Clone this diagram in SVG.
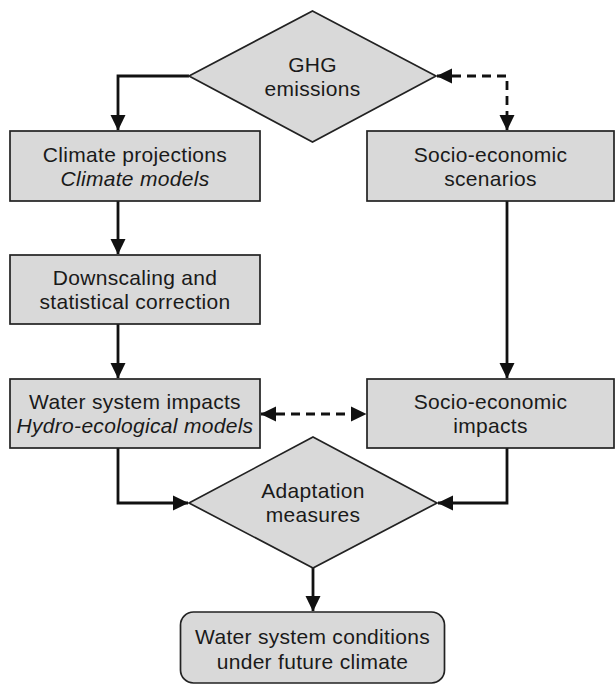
<svg xmlns="http://www.w3.org/2000/svg" width="615" height="685" viewBox="0 0 615 685">
<defs>
<style>
.node{fill:#d9d9d9;stroke:#222;stroke-width:1.7}
.t{font-family:"Liberation Sans",Arial,sans-serif;font-size:21px;letter-spacing:0.3px;fill:#1a1a1a;text-anchor:middle}
.i{font-style:italic}
.c{fill:none;stroke:#111;stroke-width:2.8}
.d{stroke-dasharray:9 6}
</style>
<marker id="ah" markerUnits="userSpaceOnUse" markerWidth="16" markerHeight="16" refX="15" refY="8" orient="auto-start-reverse" viewBox="0 0 16 16">
<path d="M0,0.5 L15.5,8 L0,15.5 Z" fill="#111"/>
</marker>
</defs>
<rect width="615" height="685" fill="#fff"/>
<g id="connectors">
<path class="c" d="M189,76 H118 V130" marker-end="url(#ah)"/>
<path class="c d" d="M437,76 H507 V130" marker-start="url(#ah)" marker-end="url(#ah)"/>
<path class="c" d="M118,201 V254" marker-end="url(#ah)"/>
<path class="c" d="M118,324 V378" marker-end="url(#ah)"/>
<path class="c" d="M507,201 V378" marker-end="url(#ah)"/>
<path class="c d" d="M261,414 H366" marker-start="url(#ah)" marker-end="url(#ah)"/>
<path class="c" d="M118,448 V503 H188" marker-end="url(#ah)"/>
<path class="c" d="M507,448 V503 H438" marker-end="url(#ah)"/>
<path class="c" d="M313,568 V611" marker-end="url(#ah)"/>
</g>
<g id="ghg">
<polygon class="node" points="312.5,11 436,76 312.5,142 189,76"/>
<text class="t" x="312.5" y="72">GHG</text>
<text class="t" x="312.5" y="96">emissions</text>
</g>
<g id="climate-projections">
<rect class="node" x="10" y="131" width="250" height="70"/>
<text class="t" x="135" y="162">Climate projections</text>
<text class="t i" x="135" y="186">Climate models</text>
</g>
<g id="socio-scenarios">
<rect class="node" x="367" y="131" width="247" height="70"/>
<text class="t" x="490.5" y="162">Socio-economic</text>
<text class="t" x="490.5" y="186">scenarios</text>
</g>
<g id="downscaling">
<rect class="node" x="10" y="255" width="250" height="69"/>
<text class="t" x="135" y="285">Downscaling and</text>
<text class="t" x="135" y="309">statistical correction</text>
</g>
<g id="water-impacts">
<rect class="node" x="10" y="379" width="250" height="69"/>
<text class="t" x="135" y="409">Water system impacts</text>
<text class="t i" x="135" y="433">Hydro-ecological models</text>
</g>
<g id="socio-impacts">
<rect class="node" x="367" y="379" width="247" height="69"/>
<text class="t" x="490.5" y="409">Socio-economic</text>
<text class="t" x="490.5" y="433">impacts</text>
</g>
<g id="adaptation">
<polygon class="node" points="313,437 437,503 313,568 189,503"/>
<text class="t" x="313" y="498">Adaptation</text>
<text class="t" x="313" y="522">measures</text>
</g>
<g id="conditions">
<rect class="node" x="180.5" y="612" width="264" height="71" rx="13"/>
<text class="t" x="312.5" y="644">Water system conditions</text>
<text class="t" x="312.5" y="669">under future climate</text>
</g>
</svg>
